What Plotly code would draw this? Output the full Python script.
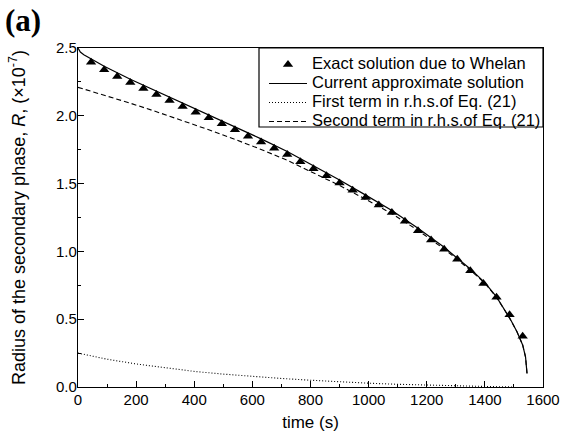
import plotly.graph_objects as go

# ---- data ----
t_exact = [45, 90, 135, 180, 225, 270, 315, 360, 405, 450, 495, 540, 585, 630, 675, 720, 765,
           810, 855, 900, 945, 990, 1035, 1080, 1125, 1170, 1215, 1260, 1305, 1350, 1395, 1440, 1485, 1530]
r_exact = [2.394, 2.340, 2.290, 2.246, 2.202, 2.157, 2.113, 2.069, 2.027, 1.985, 1.941, 1.897, 1.850,
           1.806, 1.761, 1.714, 1.662, 1.610, 1.558, 1.505, 1.451, 1.397, 1.342, 1.286, 1.222, 1.153,
           1.084, 1.016, 0.942, 0.857, 0.764, 0.661, 0.533, 0.375]

t_curr = [0, 8, 20, 45, 90, 180, 270, 360, 450, 540, 630, 720, 810, 900, 990, 1080, 1170, 1260,
          1350, 1400, 1440, 1485, 1510, 1530, 1540, 1545]
r_curr = [2.50, 2.47, 2.45, 2.42, 2.365, 2.27, 2.182, 2.094, 2.008, 1.92, 1.83, 1.737, 1.633, 1.527,
          1.415, 1.302, 1.17, 1.03, 0.87, 0.77, 0.665, 0.51, 0.41, 0.31, 0.22, 0.10]

t_first = [0, 100, 200, 300, 400, 500, 600, 700, 800, 900, 1000, 1100, 1200, 1300, 1400, 1500]
r_first = [0.25, 0.205, 0.17, 0.14, 0.115, 0.095, 0.078, 0.063, 0.05, 0.038, 0.028, 0.02, 0.013,
           0.008, 0.004, 0.0]

t_second = [0, 90, 180, 270, 360, 450, 540, 630, 720, 810, 900, 990, 1080, 1170, 1260, 1350,
            1400, 1440, 1485, 1510, 1530, 1540, 1545]
r_second = [2.21, 2.152, 2.093, 2.03, 1.965, 1.897, 1.826, 1.752, 1.672, 1.582, 1.486, 1.384, 1.278,
            1.155, 1.018, 0.862, 0.765, 0.662, 0.508, 0.41, 0.31, 0.22, 0.10]

names = ["Exact solution due to Whelan", "Current approximate solution",
         "First term in r.h.s.of Eq. (21)", "Second term in r.h.s.of Eq. (21)"]

FONT = "Liberation Sans, Arial, sans-serif"


def lg(s):
    return '<span style="font-size:16.5px">' + s + '</span>'


fig = go.Figure()
fig.add_trace(go.Scatter(x=t_exact, y=r_exact, mode="markers", name=lg(names[0]),
                         marker=dict(symbol="triangle-up", size=9, color="black")))
fig.add_trace(go.Scatter(x=t_curr, y=r_curr, mode="lines", name=lg(names[1]),
                         line=dict(color="black", width=1.2)))
fig.add_trace(go.Scatter(x=t_first, y=r_first, mode="lines", name=lg(names[2]),
                         line=dict(color="black", width=1.1, dash="1px,2px")))
fig.add_trace(go.Scatter(x=t_second, y=r_second, mode="lines", name=lg(names[3]),
                         line=dict(color="black", width=1.1, dash="5px,3px")))

L, R, T, B = 78, 18, 48, 53
W, H = 561, 440
pw, ph = W - L - R, H - T - B

fig.update_layout(
    width=W, height=H,
    margin=dict(l=L, r=R, t=T, b=B, autoexpand=False),
    paper_bgcolor="white", plot_bgcolor="white",
    font=dict(family=FONT, color="black", size=15),
    showlegend=True,
    legend=dict(x=(264 - L) / pw, y=1.0 - 2 / ph, xanchor="left", yanchor="top",
                bgcolor="rgba(0,0,0,0)", borderwidth=0,
                font=dict(size=12, family=FONT), itemwidth=38,
                tracegroupgap=0),
    xaxis=dict(range=[0, 1600], dtick=200, tick0=0, showgrid=False, zeroline=False,
               showline=True, linecolor="black", linewidth=1.3, mirror=True,
               ticks="inside", ticklen=6, tickwidth=1, tickcolor="black",
               minor=dict(dtick=100, ticks="inside", ticklen=3, tickwidth=1, tickcolor="black", showgrid=False),
               tickfont=dict(size=15), ticklabelstandoff=-1,
               title=dict(text="time (s)", font=dict(size=17), standoff=8)),
    yaxis=dict(range=[0, 2.5], dtick=0.5, tick0=0, tickformat=".1f", showgrid=False, zeroline=False,
               showline=True, linecolor="black", linewidth=1.3, mirror=True,
               ticks="inside", ticklen=6, tickwidth=1, tickcolor="black",
               minor=dict(dtick=0.25, ticks="inside", ticklen=3, tickwidth=1, tickcolor="black", showgrid=False),
               tickfont=dict(size=15), ticklabelstandoff=-3),
    shapes=[dict(type="rect", xref="paper", yref="paper",
                 x0=(259 - L) / pw, x1=1.0, y0=(387 - 127) / ph, y1=1.0,
                 line=dict(color="black", width=1.2), fillcolor="rgba(0,0,0,0)")],
    annotations=[
        dict(text="<b>(a)</b>", xref="paper", yref="paper", x=(3 - L) / pw, y=1 + (T - 1) / ph,
             xanchor="left", yanchor="top", showarrow=False,
             font=dict(family="Liberation Serif, Times New Roman, serif", size=31, color="black")),
        dict(text="Radius of the secondary phase, <i>R</i>, (\u00d710<sup>-7</sup>)",
             xref="paper", yref="paper", x=(17 - L) / pw, y=(387 - 218) / ph,
             xanchor="center", yanchor="middle", textangle=-90, showarrow=False,
             font=dict(family=FONT, size=18, color="black")),
    ],
)

fig.write_html("out.html", post_script="document.body.style.margin='0px';",
               config={"displayModeBar": False})
